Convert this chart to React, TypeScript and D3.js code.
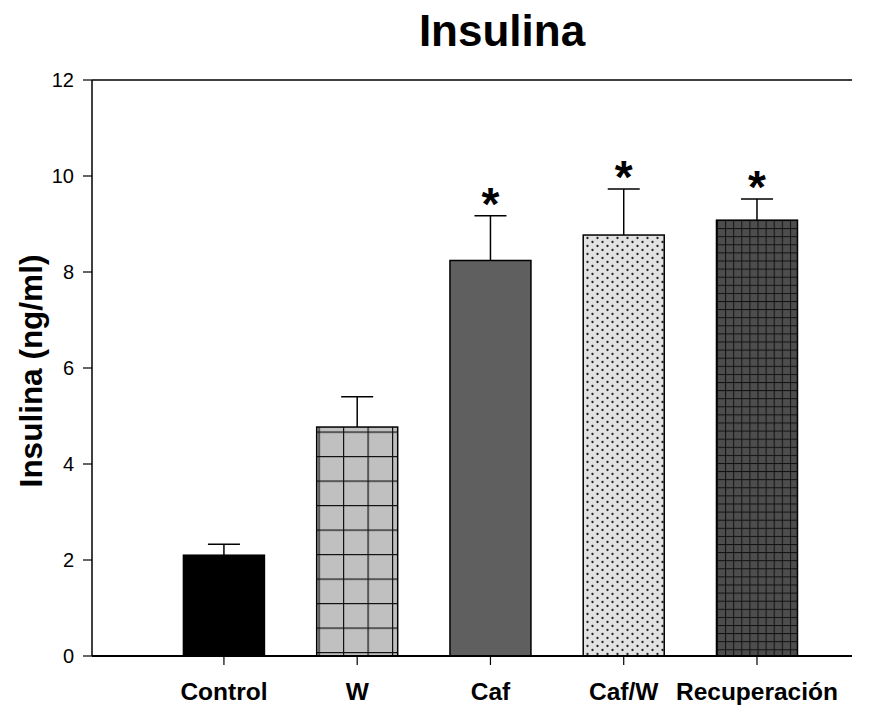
import React from "react";
import * as d3 from "d3";

const groups = ["Control", "W", "Caf", "Caf/W", "Recuperación"];
const means = [2.1, 4.77, 8.24, 8.77, 9.08];
const errors = [0.23, 0.63, 0.93, 0.96, 0.44];
const significant = [false, false, true, true, true];
const yTicks = [0, 2, 4, 6, 8, 10, 12];

const W = 880;
const H = 706;
const left = 92;
const right = 852;
const top = 80;
const bottom = 656;
const barW = 81;

const fills = [
  "#000000",
  "url(#patW)",
  "#5f5f5f",
  "url(#patDots)",
  "url(#patFine)",
];

export default function App() {
  const y = d3.scaleLinear().domain([0, 12]).range([bottom, top]);
  const x = d3.scaleLinear().domain([-0.99, 4.713]).range([left, right]);
  const font = "Arial, 'Liberation Sans', Helvetica, sans-serif";

  return (
    <svg width={W} height={H} style={{ position: "absolute", left: 0, top: 0, background: "#fff" }}>
      <defs>
        <pattern id="patW" patternUnits="userSpaceOnUse" width={24.5} height={24.5} x={318.5} y={456}>
          <rect width={24.5} height={24.5} fill="#c0c0c0" />
          <line x1={0} y1={0} x2={24.5} y2={0} stroke="#111" strokeWidth={2.4} />
          <line x1={0} y1={0} x2={0} y2={24.5} stroke="#111" strokeWidth={2.4} />
        </pattern>
        <pattern id="patDots" patternUnits="userSpaceOnUse" width={10} height={8}>
          <rect width={10} height={8} fill="#e2e2e2" />
          <circle cx={2.5} cy={2} r={1.15} fill="#222" />
          <circle cx={7.5} cy={6} r={1.15} fill="#222" />
        </pattern>
        <pattern id="patFine" patternUnits="userSpaceOnUse" width={8.1} height={8.1} x={717} y={220}>
          <rect width={8.1} height={8.1} fill="#4d4d4d" />
          <line x1={0} y1={0} x2={8.1} y2={0} stroke="#111" strokeWidth={2} />
          <line x1={0} y1={0} x2={0} y2={8.1} stroke="#111" strokeWidth={2} />
        </pattern>
      </defs>

      <text x={502} y={46} textAnchor="middle" fontFamily={font} fontWeight="bold" fontSize={44}>
        Insulina
      </text>

      {/* bars */}
      {groups.map((g, i) => {
        const cx = x(i);
        return (
          <g key={g}>
            <line x1={cx} x2={cx} y1={y(means[i])} y2={y(means[i] + errors[i])} stroke="#000" strokeWidth={1.5} />
            <line x1={cx - 16} x2={cx + 16} y1={y(means[i] + errors[i])} y2={y(means[i] + errors[i])} stroke="#000" strokeWidth={1.5} />
            <rect
              x={cx - barW / 2}
              y={y(means[i])}
              width={barW}
              height={y(0) - y(means[i])}
              fill={fills[i]}
              stroke="#000"
              strokeWidth={1.5}
            />
            {significant[i] && (
              <text x={cx} y={y(means[i] + errors[i]) + 4} textAnchor="middle" fontFamily={font} fontWeight="bold" fontSize={46}>
                *
              </text>
            )}
            <line x1={cx} x2={cx} y1={bottom} y2={bottom + 9} stroke="#000" strokeWidth={1.2} />
            <text x={cx} y={bottom + 44} textAnchor="middle" fontFamily={font} fontWeight="bold" fontSize={24.5}>
              {g}
            </text>
          </g>
        );
      })}

      {/* frame */}
      <line x1={left} x2={right} y1={top} y2={top} stroke="#000" strokeWidth={1.5} />
      <line x1={left} x2={right} y1={bottom} y2={bottom} stroke="#000" strokeWidth={2} />
      <line x1={left} x2={left} y1={top} y2={bottom} stroke="#000" strokeWidth={1.5} />

      {yTicks.map((t) => (
        <g key={t}>
          <line x1={left - 9} x2={left} y1={y(t)} y2={y(t)} stroke="#000" strokeWidth={1.2} />
          <text x={left - 18} y={y(t) + 7} textAnchor="end" fontFamily={font} fontSize={20}>
            {t}
          </text>
        </g>
      ))}

      <text
        transform={`translate(42,${(top + bottom) / 2 + 3}) rotate(-90)`}
        textAnchor="middle"
        fontFamily={font}
        fontWeight="bold"
        fontSize={31.5}
      >
        Insulina (ng/ml)
      </text>
    </svg>
  );
}
